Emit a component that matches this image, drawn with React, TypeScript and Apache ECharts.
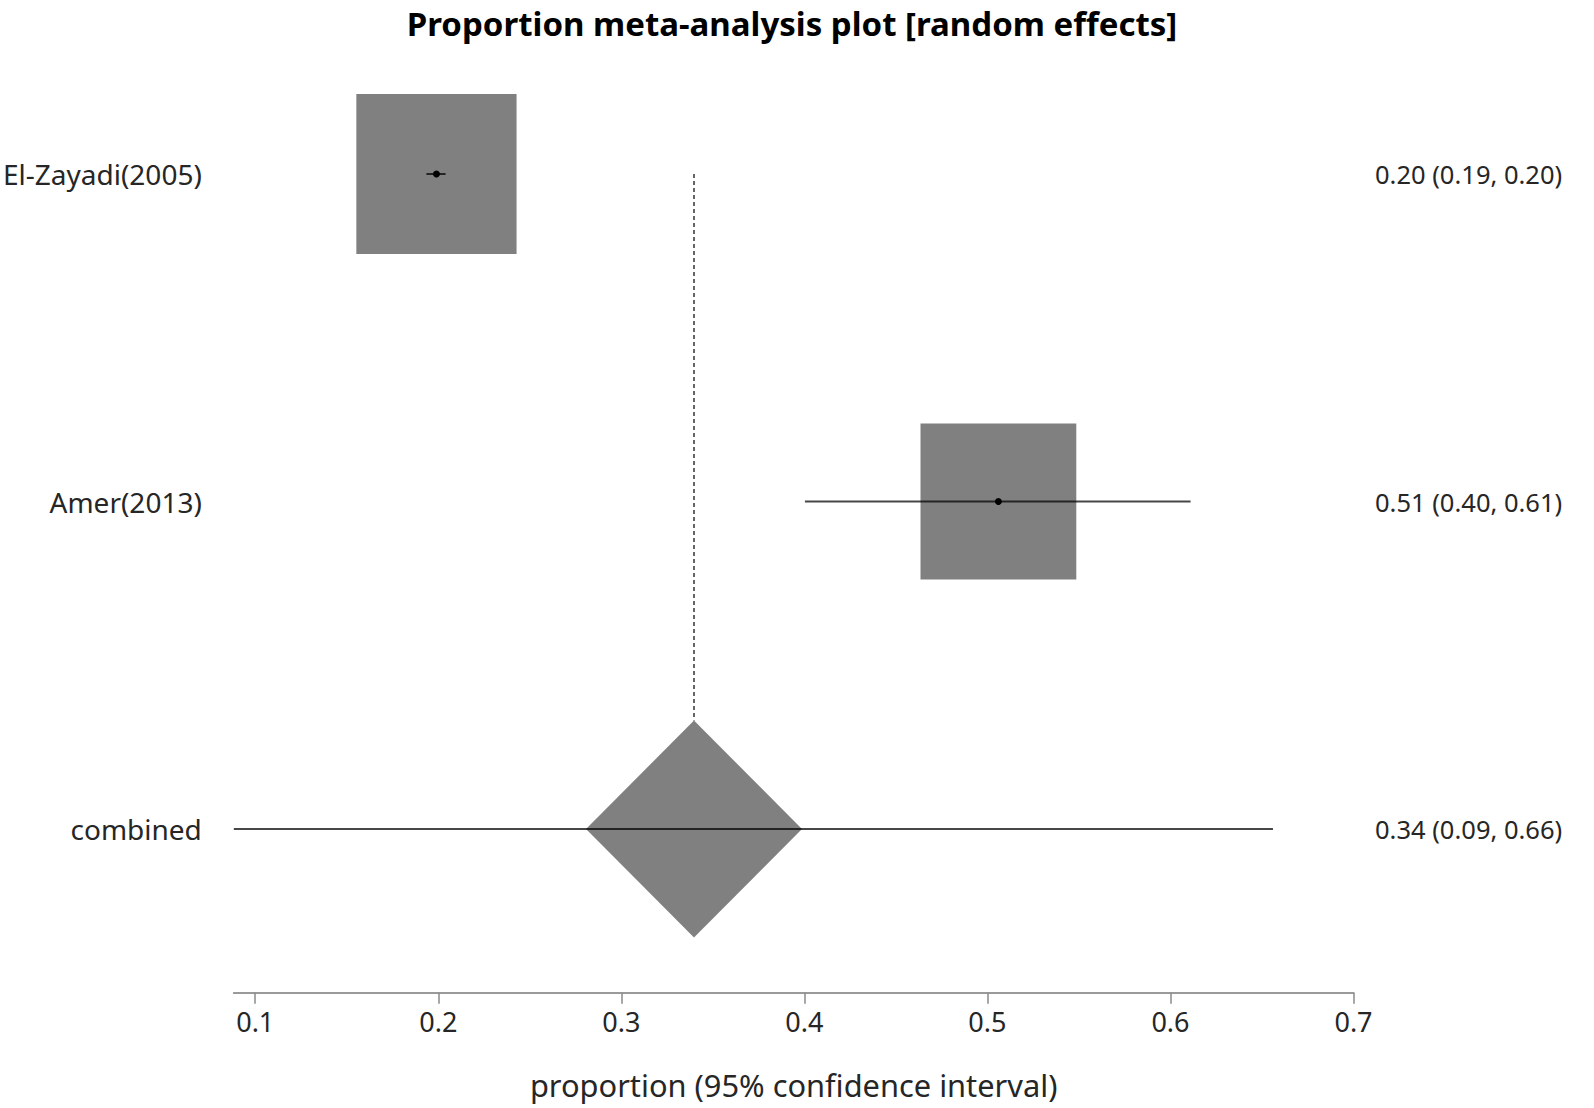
import React, { useEffect, useRef } from "react";
import * as echarts from "echarts";

// ---- data ----
const studyNames = ["El-Zayadi(2005)", "Amer(2013)"];
const studyEst = [0.199, 0.506];
const studyLo = [0.1935, 0.4003];
const studyHi = [0.204, 0.611];
const studyWeight = [50.7, 49.3]; // % weights (random effects)

const pooledName = "combined";
const pooledEst = 0.3397;
const pooledLo = 0.0883;
const pooledHi = 0.656;

const xTicks = [0.1, 0.2, 0.3, 0.4, 0.5, 0.6, 0.7];
const xMax = 0.7;

const titleText = "Proportion meta-analysis plot [random effects]";
const xName = "proportion (95% confidence interval)";

const fmt = (e: number, l: number, h: number) =>
  `${e.toFixed(2)} (${l.toFixed(2)}, ${h.toFixed(2)})`;

export default function App() {
  const ref = useRef<HTMLDivElement>(null);

  useEffect(() => {
    if (!ref.current) return;
    const chart = echarts.init(ref.current, undefined, { renderer: "svg" });

    const rowNames = [...studyNames, pooledName];
    const rowSummaries = [
      ...studyNames.map((_, i) => fmt(studyEst[i], studyLo[i], studyHi[i])),
      fmt(pooledEst, pooledLo, pooledHi),
    ];

    const studyData = studyNames.map((_, i) => [
      studyEst[i],
      i,
      studyLo[i],
      studyHi[i],
      studyWeight[i],
    ]);
    const pooledData = [[pooledEst, studyNames.length, pooledLo, pooledHi]];

    const SQUARE_PX_PER_WEIGHT = 3.16;
    const DIAMOND_HALF_W = 108;
    const DIAMOND_HALF_H = 108.5;
    const lineStroke = "rgba(0,0,0,0.72)";

    const option: any = {
      animation: false,
      backgroundColor: "#ffffff",
      title: {
        text: titleText,
        left: 787,
        top: 5,
        padding: [2, 5, 2, 5],
        textAlign: "center",
        textStyle: {
          fontFamily: "'Noto Sans', 'Open Sans', sans-serif",
          fontWeight: "bold",
          fontSize: 33,
          color: "#000000",
        },
      },
      grid: {
        left: 232,
        right: 240.5,
        top: 10.25,
        bottom: 115.25,
        containLabel: false,
      },
      xAxis: {
        type: "value",
        min: pooledLo,
        max: xMax,
        name: xName,
        nameLocation: "middle",
        nameGap: 77,
        nameTextStyle: {
          fontFamily: "'Noto Sans', sans-serif",
          fontSize: 30.8,
          color: "#262626",
        },
        axisLine: { show: true, lineStyle: { color: "#9a9a9a", width: 2 } },
        axisTick: {
          show: true,
          customValues: xTicks,
          length: 11,
          lineStyle: { color: "#8a8a8a", width: 1.5 },
        },
        axisLabel: {
          show: true,
          customValues: xTicks,
          margin: 15,
          formatter: (v: number) => v.toFixed(1),
          fontFamily: "'Noto Sans', sans-serif",
          fontSize: 27,
          color: "#262626",
        },
        splitLine: { show: false },
      },
      yAxis: [
        {
          type: "category",
          data: rowNames,
          inverse: true,
          boundaryGap: true,
          position: "left",
          axisLine: { show: false },
          axisTick: { show: false },
          splitLine: { show: false },
          axisLabel: {
            margin: 32,
            fontFamily: "'Noto Sans', sans-serif",
            fontSize: 28,
            color: "#262626",
          },
        },
        {
          type: "category",
          data: rowSummaries,
          inverse: true,
          boundaryGap: true,
          position: "right",
          axisLine: { show: false },
          axisTick: { show: false },
          splitLine: { show: false },
          axisLabel: {
            margin: 21.5,
            fontFamily: "'Noto Sans', sans-serif",
            fontSize: 25.5,
            color: "#262626",
          },
        },
      ],
      series: [
        {
          type: "custom",
          name: "studies",
          xAxisIndex: 0,
          yAxisIndex: 0,
          encode: { x: 0, y: 1 },
          data: studyData,
          renderItem: (_params: any, api: any) => {
            const est = api.value(0);
            const row = api.value(1);
            const lo = api.value(2);
            const hi = api.value(3);
            const w = api.value(4);
            const c = api.coord([est, row]);
            const l = api.coord([lo, row]);
            const h = api.coord([hi, row]);
            const side = w * SQUARE_PX_PER_WEIGHT;
            return {
              type: "group",
              children: [
                {
                  type: "rect",
                  shape: { x: c[0] - side / 2, y: c[1] - side / 2, width: side, height: side },
                  style: { fill: "#808080" },
                },
                {
                  type: "line",
                  shape: { x1: l[0], y1: c[1], x2: h[0], y2: c[1] },
                  style: { stroke: lineStroke, lineWidth: 2 },
                },
                {
                  type: "circle",
                  shape: { cx: c[0], cy: c[1], r: 3.5 },
                  style: { fill: "#000000" },
                },
              ],
            };
          },
        },
        {
          type: "custom",
          name: "pooled",
          xAxisIndex: 0,
          yAxisIndex: 0,
          encode: { x: 0, y: 1 },
          data: pooledData,
          renderItem: (_params: any, api: any) => {
            const est = api.value(0);
            const row = api.value(1);
            const lo = api.value(2);
            const hi = api.value(3);
            const c = api.coord([est, row]);
            const l = api.coord([lo, row]);
            const h = api.coord([hi, row]);
            const top = api.coord([est, 0]);
            return {
              type: "group",
              children: [
                {
                  type: "line",
                  shape: { x1: c[0], y1: top[1], x2: c[0], y2: c[1] - DIAMOND_HALF_H },
                  style: { stroke: "#000000", lineWidth: 1.2, lineDash: [4, 3] },
                },
                {
                  type: "polygon",
                  shape: {
                    points: [
                      [c[0] - DIAMOND_HALF_W, c[1]],
                      [c[0], c[1] - DIAMOND_HALF_H],
                      [c[0] + DIAMOND_HALF_W, c[1]],
                      [c[0], c[1] + DIAMOND_HALF_H],
                    ],
                  },
                  style: { fill: "#808080" },
                },
                {
                  type: "line",
                  shape: { x1: l[0], y1: c[1], x2: h[0], y2: c[1] },
                  style: { stroke: lineStroke, lineWidth: 2 },
                },
              ],
            };
          },
        },
      ],
    };

    chart.setOption(option);
    return () => chart.dispose();
  }, []);

  return (
    <div
      ref={ref}
      style={{ position: "absolute", left: 0, top: 0, width: 1594, height: 1108 }}
    />
  );
}
